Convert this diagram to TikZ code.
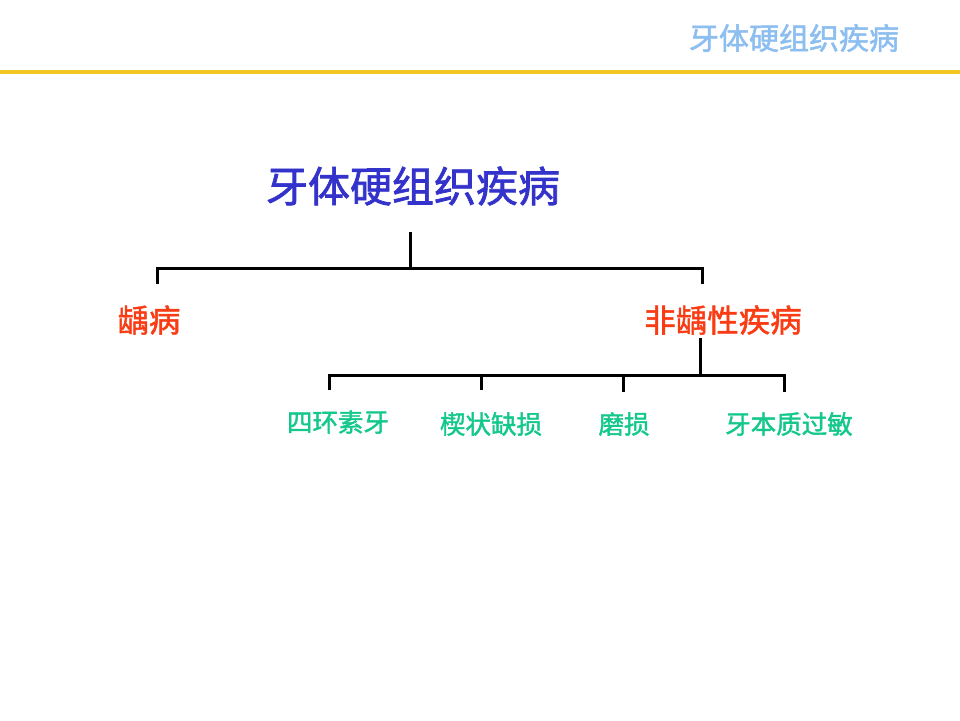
\documentclass[tikz,border=0pt]{standalone}
\usepackage{fontspec}
\newfontfamily\cjk{Noto Sans CJK SC}
\newfontfamily\cjkm[FakeBold=1.6]{Noto Sans CJK SC}
\definecolor{hdrblue}{RGB}{140,190,240}
\definecolor{baryellow}{RGB}{242,200,30}
\definecolor{titleblue}{RGB}{51,51,204}
\definecolor{redor}{RGB}{250,60,20}
\definecolor{greenc}{RGB}{20,200,140}
\tikzset{
  tree/.style={line width=3pt, black},
  lvlA/.style={font=\cjkm\fontsize{42}{46}\selectfont, text=titleblue, inner sep=0pt},
  lvlB/.style={font=\cjkm\fontsize{31.5}{34}\selectfont, text=redor, inner sep=0pt},
  lvlC/.style={font=\cjkm\fontsize{25.5}{28}\selectfont, text=greenc, inner sep=0pt},
  hdr/.style={font=\cjkm\fontsize{30}{33}\selectfont, text=hdrblue, inner sep=0pt},
}
\begin{document}
\begin{tikzpicture}[x=1pt,y=-1pt]
\useasboundingbox (0,0) rectangle (960,720);
\fill[white] (0,0) rectangle (960,720);
\node[hdr] (hdr) at (794,38) {牙体硬组织疾病};
\coordinate (barL) at (0,72);
\coordinate (barR) at (960,72);
\draw[baryellow, line width=4pt] (barL) -- (barR);

\node[lvlA] (root) at (413,186) {牙体硬组织疾病};
\node[lvlB] (caries) at (149,320) {龋病};
\node[lvlB] (noncar) at (723,320) {非龋性疾病};
\node[lvlC] (c1) at (338,422) {四环素牙};
\node[lvlC] (c2) at (491,424) {楔状缺损};
\node[lvlC] (c3) at (624,424) {磨损};
\node[lvlC] (c4) at (789,424) {牙本质过敏};

\coordinate (r0) at (410,232);
\coordinate (r1) at (410,268);
\coordinate (hL) at (157,268);
\coordinate (hR) at (702,268);
\coordinate (dL) at (157,284);
\coordinate (dR) at (702,284);
\draw[tree] (r0) -- (r1);
\draw[tree] (dL) -- (hL) -- (hR) -- (dR);

\coordinate (n0) at (700,338);
\coordinate (n1) at (700,375);
\coordinate (a1) at (329,375);
\coordinate (a2) at (481,375);
\coordinate (a3) at (623,375);
\coordinate (a4) at (784,375);
\coordinate (b1) at (329,390);
\coordinate (b2) at (481,390);
\coordinate (b3) at (623,392);
\coordinate (b4) at (784,392);
\draw[tree] (n0) -- (n1);
\draw[tree] (b1) -- (a1) -- (a4) -- (b4);
\draw[tree] (a2) -- (b2);
\draw[tree] (a3) -- (b3);
\end{tikzpicture}
\end{document}
